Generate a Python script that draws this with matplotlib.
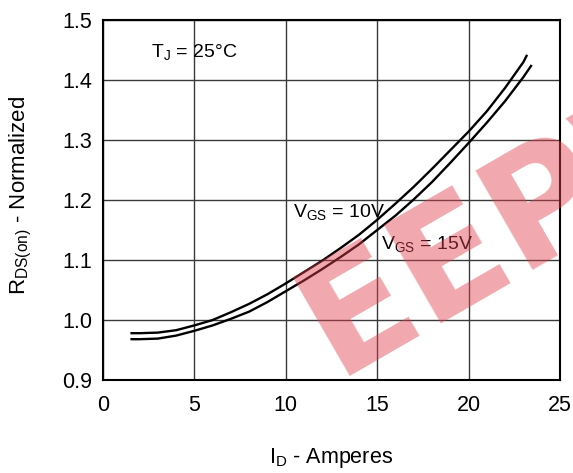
import matplotlib
matplotlib.use("Agg")
import matplotlib.pyplot as plt

# Data
id_10v = [1.5, 2, 3, 4, 5, 6, 7, 8, 9, 10, 11, 12, 13, 14, 15, 16, 17, 18, 19, 20,
          21, 22, 23, 23.2]
rds_10v = [0.978, 0.978, 0.979, 0.983, 0.991, 1.000, 1.013, 1.027, 1.043, 1.061,
           1.080, 1.099, 1.120, 1.142, 1.167, 1.194, 1.222, 1.252, 1.283, 1.314,
           1.348, 1.387, 1.430, 1.442]
id_15v = [1.5, 2, 3, 4, 5, 6, 7, 8, 9, 10, 11, 12, 13, 14, 15, 16, 17, 18, 19, 20,
          21, 22, 23, 23.45]
rds_15v = [0.968, 0.968, 0.969, 0.974, 0.982, 0.991, 1.002, 1.014, 1.030, 1.048,
           1.066, 1.085, 1.105, 1.126, 1.150, 1.174, 1.201, 1.230, 1.262, 1.295,
           1.329, 1.365, 1.405, 1.425]
x_ticks = [0, 5, 10, 15, 20, 25]
y_ticks = [0.9, 1.0, 1.1, 1.2, 1.3, 1.4, 1.5]

plt.rcParams['font.family'] = ['Liberation Sans', 'DejaVu Sans']

W, H = 573, 473
fig = plt.figure(figsize=(W / 100, H / 100), dpi=100)
ax = fig.add_axes([103 / W, 1 - 380 / H, (560 - 103) / W, (380 - 20) / H])

ax.plot(id_10v, rds_10v, color='black', lw=1.7, zorder=3, solid_capstyle='butt')
ax.plot(id_15v, rds_15v, color='black', lw=1.7, zorder=3, solid_capstyle='butt')

ax.set_xlim(0, 25)
ax.set_ylim(0.9, 1.5)
ax.set_xticks(x_ticks)
ax.set_xticklabels([str(t) for t in x_ticks])
ax.set_yticks(y_ticks)
ax.set_yticklabels([f"{t:.1f}" for t in y_ticks])
ax.tick_params(axis='both', length=0, labelsize=15.5)
ax.tick_params(axis='x', pad=11)
ax.tick_params(axis='y', pad=8)
ax.grid(True, color='#3a3a3a', lw=1.0)
for s in ax.spines.values():
    s.set_linewidth(1.5)
    s.set_color('black')

ax.text(2.65, 1.445, r"T$_\mathregular{J}$ = 25°C", fontsize=14, va='center', ha='left')
ax.text(10.4, 1.178, r"V$_\mathregular{GS}$ = 10V", fontsize=14, va='center', ha='left')
ax.text(15.2, 1.125, r"V$_\mathregular{GS}$ = 15V", fontsize=14, va='center', ha='left')

fig.text(331 / W, 1 - 458 / H, r"I$_\mathregular{D}$ - Amperes", fontsize=15.5,
         ha='center', va='center')
fig.text(21 / W, 1 - 195 / H, r"R$_\mathregular{DS(on)}$ - Normalized", fontsize=16,
         ha='center', va='center', rotation=90)

# watermark
fig.text(336 / W, 1 - 376 / H, "EEPW", fontsize=112, fontweight='bold',
         family='DejaVu Sans', color='#e0404c', alpha=0.45, rotation=30,
         rotation_mode='anchor', ha='left', va='baseline', zorder=10)

fig.savefig("out.png", dpi=100)
